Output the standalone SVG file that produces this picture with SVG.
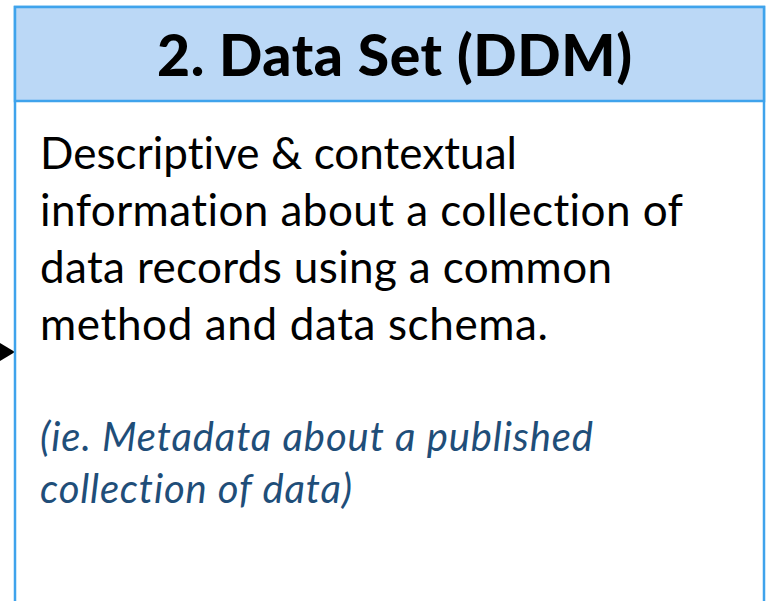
<svg xmlns="http://www.w3.org/2000/svg" width="772" height="601" viewBox="0 0 772 601">
<style>
.box{fill:#ffffff;stroke:#3FA3EC;stroke-width:2.5}
.hdr{fill:#BBD8F6;stroke:#3FA3EC;stroke-width:2.5}
text{font-family:Lato,"Open Sans","Liberation Sans",sans-serif;font-variant-ligatures:none;font-feature-settings:"liga" 0}
.title{font-weight:900;font-size:57px;fill:#000}
.body{font-size:44px;fill:#000}
.it{font-style:italic;font-size:40px;fill:#1F4E79}
</style>
<rect width="772" height="601" fill="#ffffff"/>
<g id="connectors">
<path d="M0,343 L15,352 L0,361 Z" fill="#000"/>
</g>
<g id="node-dataset">
<rect class="box" x="15" y="7" width="749" height="620"/>
<rect class="hdr" x="15" y="7" width="749" height="94"/>
<text class="title" x="157" y="76" textLength="475">2. Data Set (DDM)</text>
<text class="body" x="40" y="169" textLength="477">Descriptive &amp; contextual</text>
<text class="body" x="40" y="226" textLength="643">information about a collection of</text>
<text class="body" x="40" y="283" textLength="572">data records using a common</text>
<text class="body" x="40" y="340" textLength="508">method and data schema.</text>
<text class="it" x="40" y="451" textLength="553">(ie. Metadata about a published</text>
<text class="it" x="40" y="503" textLength="312">collection of data)</text>
</g>
</svg>
